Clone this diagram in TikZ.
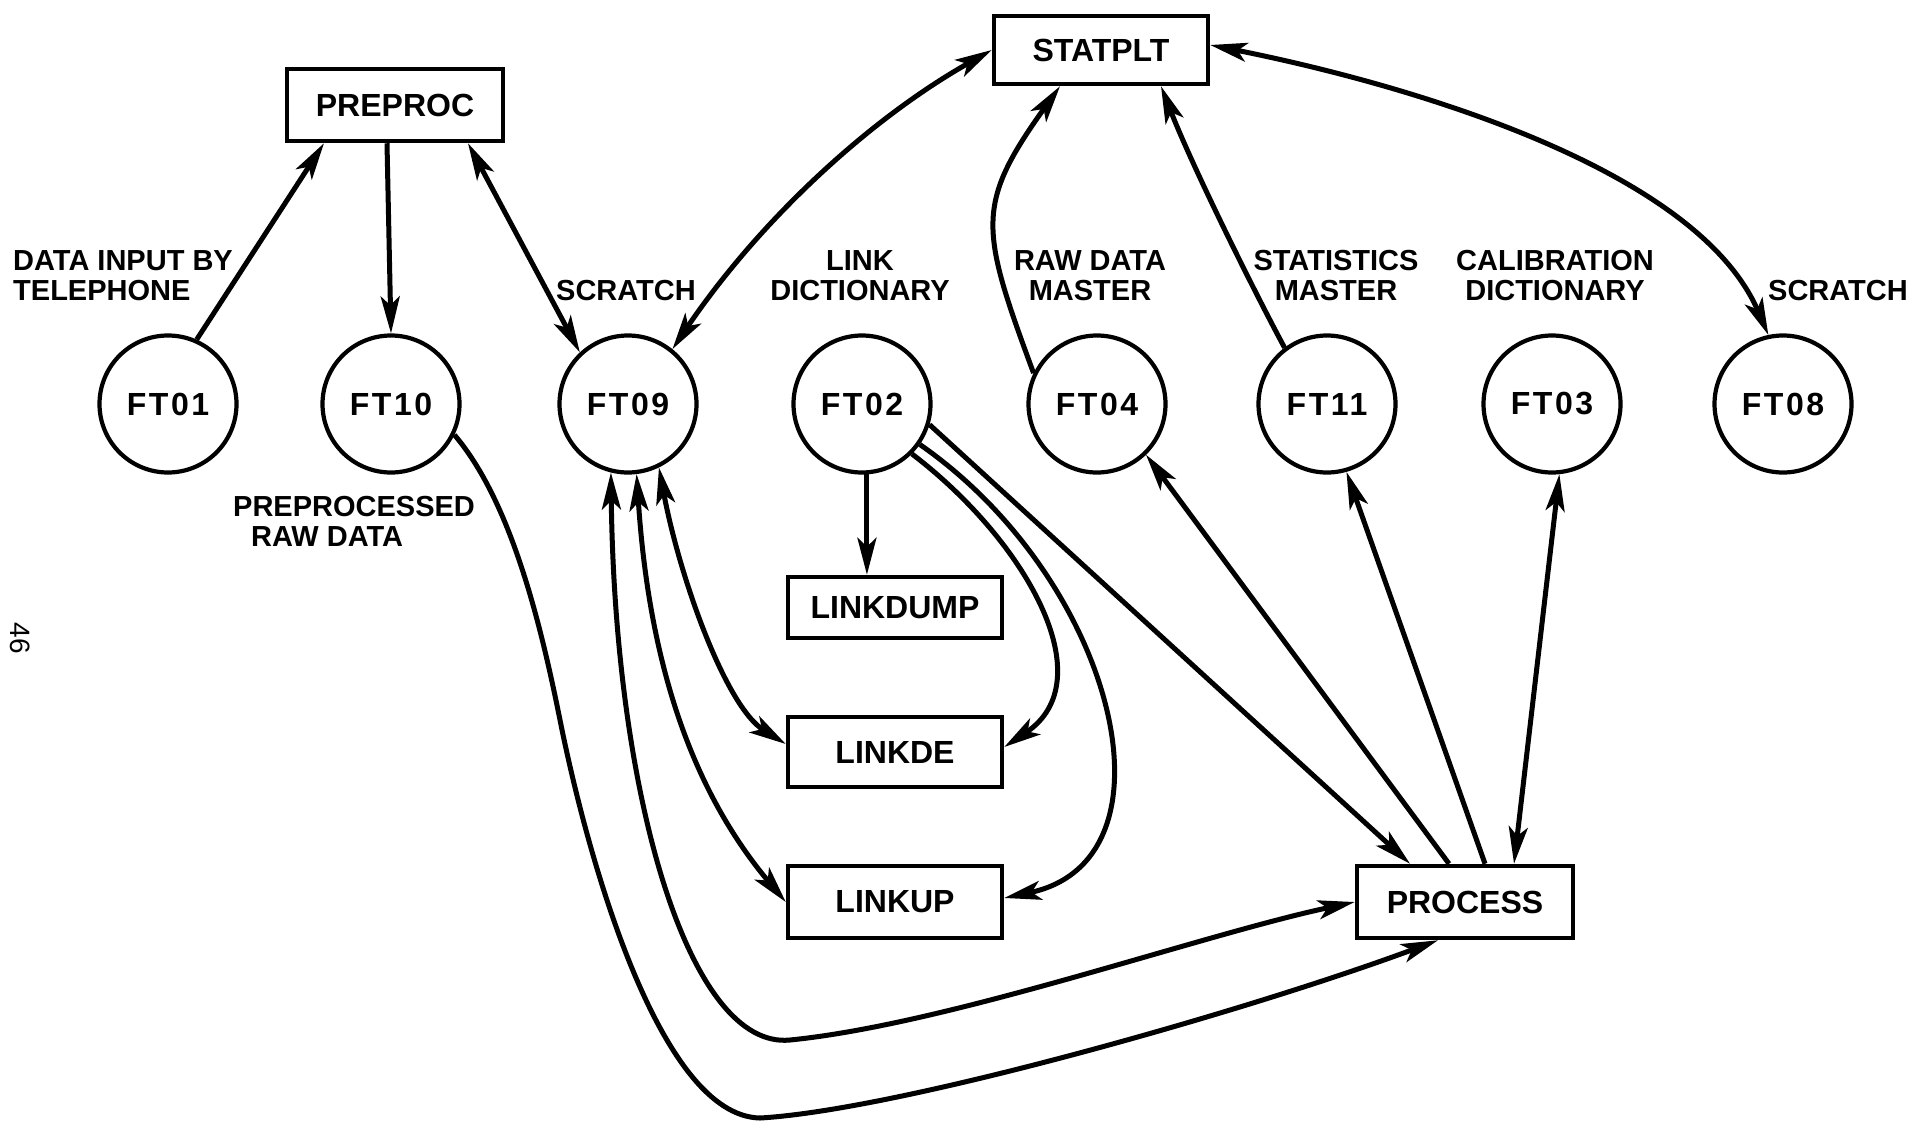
\documentclass[tikz,border=0pt]{standalone}
\usepackage{fontspec}
\setmainfont{Liberation Sans}
\newfontfamily\spacedfont[LetterSpace=8]{Liberation Sans}
\usetikzlibrary{arrows.meta,calc}
\tikzset{
  ftip/.tip={Stealth[length=37pt,width=19pt,inset=9pt]},
  filebox/.style={draw, line width=4.5pt, rectangle, inner sep=0pt,
    font=\bfseries\fontsize{32}{36}\selectfont},
  filecirc/.style={draw, line width=4.2pt, circle, minimum size=137pt, inner sep=0pt,
    font=\spacedfont\bfseries\fontsize{32}{36}\selectfont},
  lbl/.style={font=\bfseries\fontsize{29}{30}\selectfont, inner sep=0pt, align=center},
  conn/.style={line width=5pt, -ftip},
  conn2/.style={line width=5pt, ftip-ftip},
}
\begin{document}
\begin{tikzpicture}[x=1pt,y=-1pt]
\fill[white] (0,0) rectangle (1911,1121);
\useasboundingbox (0,0) rectangle (1911,1121);

% program boxes
\node[filebox, minimum width=216pt, minimum height=72pt] (preproc) at (395,105) {PREPROC};
\node[filebox, minimum width=214pt, minimum height=68pt] (statplt) at (1101,50) {STATPLT};
\node[filebox, minimum width=214pt, minimum height=61pt] (linkdump) at (895,607.5) {LINKDUMP};
\node[filebox, minimum width=214pt, minimum height=70pt] (linkde) at (895,752) {LINKDE};
\node[filebox, minimum width=214pt, minimum height=72pt] (linkup) at (895,902) {LINKUP};
\node[filebox, minimum width=216pt, minimum height=72pt] (process) at (1465,902) {PROCESS};

% files
\node[filecirc] (ft01) at (168,404) {FT01};
\node[filecirc] (ft10) at (391,404) {FT10};
\node[filecirc] (ft09) at (628,404) {FT09};
\node[filecirc] (ft02) at (862,404) {FT02};
\node[filecirc] (ft04) at (1097,404) {FT04};
\node[filecirc] (ft11) at (1327,404) {FT11};
\node[filecirc] (ft03) at (1552,404) {FT03};
\node[filecirc] (ft08) at (1783,404) {FT08};

% labels
\node[lbl, align=left, anchor=west] (lab01) at (13,276) {DATA INPUT BY\\TELEPHONE};
\node[lbl, align=left, anchor=west] (lab10) at (233,521) {PREPROCESSED\\\hspace*{18pt}RAW DATA};
\node[lbl] (lab09) at (626,291) {SCRATCH};
\node[lbl] (lab02) at (860,276) {LINK\\DICTIONARY};
\node[lbl] (lab04) at (1090,276) {RAW DATA\\MASTER};
\node[lbl] (lab11) at (1336,276) {STATISTICS\\MASTER};
\node[lbl] (lab03) at (1555,276) {CALIBRATION\\DICTIONARY};
\node[lbl] (lab08) at (1838,291) {SCRATCH};

% page number
\node[font=\fontsize{28}{30}\selectfont, rotate=-90, inner sep=0pt] (pagenum) at (20,638) {46};

% connectors, top part
\draw[conn] (ft01.66) -- ([xshift=-71pt]preproc.south);
\draw[conn] ([xshift=-8pt]preproc.south) -- (ft10.north);
\draw[conn2] ([xshift=73pt]preproc.south) -- (ft09.133);
\draw[conn2] (ft09.51) .. controls (757,224) and (866,121) .. (statplt.west);
\draw[conn] (ft04.154) .. controls (980,228) and (975,205) .. ([xshift=-41pt]statplt.south);
\draw[conn] (ft11.127) .. controls (1254,291) and (1193,168) .. ([xshift=60pt]statplt.south);
\draw[conn2] ([yshift=5pt]statplt.east) .. controls (1396,82) and (1695,165) .. (ft08.102);

% FT02 outputs
\draw[conn] (ft02.-86) -- (ft02.-86 |- linkdump.north);
\draw[conn] (ft02.-45) .. controls (1025,540) and (1105,680) .. ([yshift=5pt]linkde.east);
\draw[conn] (ft02.-35) .. controls (1115,580) and (1185,860) .. ([yshift=4pt]linkup.east);
\draw[conn] (ft02.-17) -- ([xshift=-55pt]process.north);

% PROCESS to files
\draw[conn] ([xshift=-16pt]process.north) -- (ft04.-46);
\draw[conn] ([xshift=20pt]process.north) -- (ft11.-74);
\draw[conn2] ([xshift=49pt]process.north) -- (ft03.-84);

% FT09 links
\draw[conn2] (ft09.-64) .. controls (679,575) and (725,706) .. ([yshift=8pt]linkde.west);
\draw[conn2] (ft09.-83) .. controls (650,680) and (700,800) .. (linkup.west);
\draw[conn2] (ft09.-104) .. controls (615,800) and (690,1050) .. (790,1040)
  .. controls (950,1024) and (1200,935) .. (process.west);

% FT10 to PROCESS
\draw[conn] (ft10.-26) .. controls (510,500) and (540,620) .. (560,720)
  .. controls (588,860) and (660,1116) .. (760,1118)
  .. controls (900,1110) and (1250,1010) .. ([xshift=-27pt]process.south);
\end{tikzpicture}
\end{document}
